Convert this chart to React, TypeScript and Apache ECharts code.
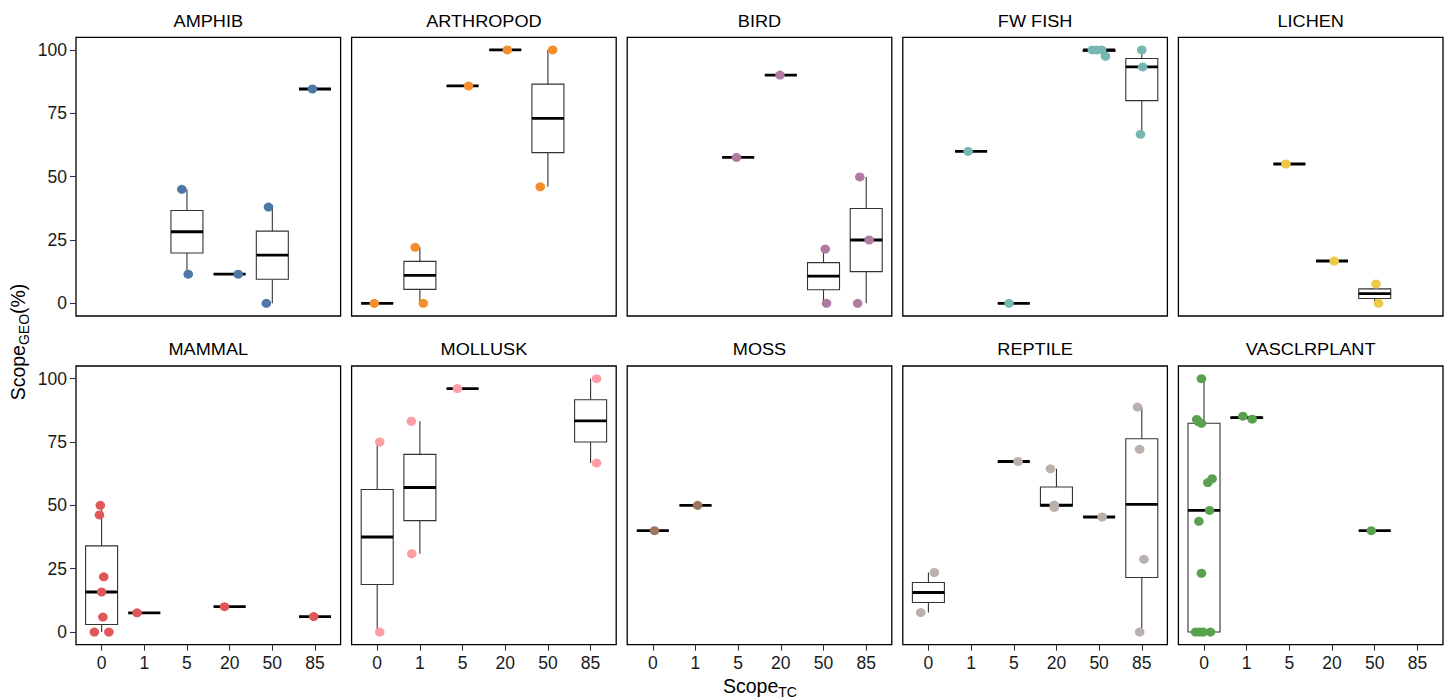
import React, { useEffect, useRef } from 'react';
import * as echarts from 'echarts';

const TAXA = ['AMPHIB', 'ARTHROPOD', 'BIRD', 'FW FISH', 'LICHEN', 'MAMMAL', 'MOLLUSK', 'MOSS', 'REPTILE', 'VASCLRPLANT'];
const SCOPE_TC = ['0', '1', '5', '20', '50', '85'];
const Y_TICKS = [0, 25, 50, 75, 100];
const COLORS = ['#4E79A7', '#F28E2B', '#B07AA1', '#76B7B2', '#EDC948', '#E15759', '#FF9DA7', '#9C755F', '#BAB0AC', '#59A14F'];

// points: [Scope_TC category index, Scope_GEO (%)]; jitter: horizontal offset
const amphib = [[2, 45], [2, 11.5], [3, 11.5], [4, 38], [4, 0], [5, 84.6]];
const jitterAmphib = [-0.12, 0.03, 0.2, -0.09, -0.14, -0.06];

const arthropod = [[0, 0], [1, 22.1], [1, 0], [2, 85.8], [3, 100], [4, 100], [4, 46]];
const jitterArthropod = [-0.07, -0.11, 0.08, 0.14, 0.05, 0.11, -0.18];

const bird = [[2, 57.6], [3, 90.1], [4, 21.4], [4, 0], [5, 49.9], [5, 25], [5, 0]];
const jitterBird = [-0.04, -0.02, 0.04, 0.07, -0.15, 0.07, -0.2];

const fwFish = [[1, 60], [2, 0], [4, 100], [4, 100], [4, 100], [4, 97.5], [5, 100], [5, 93.3], [5, 66.7]];
const jitterFwFish = [-0.07, -0.11, -0.16, -0.06, 0.06, 0.15, 0, 0.02, -0.03];

const lichen = [[2, 55], [3, 16.7], [4, 7.6], [4, 0]];
const jitterLichen = [-0.08, 0.05, 0.03, 0.09];

const mammal = [[0, 50], [0, 46.2], [0, 21.8], [0, 15.8], [0, 5.9], [0, 0], [0, 0], [1, 7.6], [3, 10], [5, 6.1]];
const jitterMammal = [-0.03, -0.05, 0.05, 0, 0.03, -0.17, 0.17, -0.17, -0.12, -0.03];

const mollusk = [[0, 75], [0, 0], [1, 83.2], [1, 30.9], [2, 96.1], [5, 100], [5, 66.7]];
const jitterMollusk = [0.06, 0.06, -0.2, -0.19, -0.12, 0.14, 0.14];

const moss = [[0, 40], [1, 50]];
const jitterMoss = [0.04, 0.05];

const reptile = [[0, 23.5], [0, 7.7], [2, 67.3], [3, 64.4], [3, 50.1], [3, 49.2], [4, 45.4], [5, 88.8], [5, 72.1], [5, 28.7], [5, 0]];
const jitterReptile = [0.14, -0.18, 0.1, -0.14, -0.05, -0.05, 0.07, -0.1, -0.05, 0.05, -0.05];

const vasclrplant = [[0, 100], [0, 83.9], [0, 83], [0, 82.4], [0, 60.5], [0, 59], [0, 48], [0, 43.7], [0, 23.2], [0, 0], [0, 0], [0, 0], [0, 0], [1, 85.2], [1, 84], [4, 40]];
const jitterVasclrplant = [-0.06, -0.17, -0.13, -0.06, 0.19, 0.09, 0.13, -0.12, -0.06, -0.2, -0.1, -0.02, 0.15, -0.09, 0.13, -0.08];

const POINTS = [amphib, arthropod, bird, fwFish, lichen, mammal, mollusk, moss, reptile, vasclrplant];
const JITTER = [jitterAmphib, jitterArthropod, jitterBird, jitterFwFish, jitterLichen, jitterMammal, jitterMollusk, jitterMoss, jitterReptile, jitterVasclrplant];

const FONT = '"Liberation Sans", Arial, Helvetica, sans-serif';
const FS = 17.5;
const STRIP_FS = 16.5;
const TITLE_FS = 19.5;
const SUB_FS = 14;

function quantile(sorted: number[], p: number) {
  const h = (sorted.length - 1) * p;
  const lo = Math.floor(h);
  const hi = Math.ceil(h);
  return sorted[lo] + (sorted[hi] - sorted[lo]) * (h - lo);
}

function boxStats(points: number[][]) {
  const out: number[][] = [];
  for (let c = 0; c < SCOPE_TC.length; c++) {
    const vals = points.filter((p) => p[0] === c).map((p) => p[1]).sort((a, b) => a - b);
    if (!vals.length) continue;
    const q1 = quantile(vals, 0.25);
    const med = quantile(vals, 0.5);
    const q3 = quantile(vals, 0.75);
    const iqr = q3 - q1;
    const inside = vals.filter((v) => v >= q1 - 1.5 * iqr && v <= q3 + 1.5 * iqr);
    out.push([c, q1, med, q3, Math.min(...inside), Math.max(...inside)]);
  }
  return out;
}

let measureCtx: CanvasRenderingContext2D | null = null;
function textWidth(text: string, size: number) {
  if (!measureCtx) measureCtx = document.createElement('canvas').getContext('2d');
  if (!measureCtx) return text.length * size * 0.55;
  measureCtx.font = `${size}px ${FONT}`;
  return measureCtx.measureText(text).width;
}

// builds "main + subscript + tail" as separate text pieces along a local x axis centred on 0
function subscriptTitle(main: string, sub: string, tail: string) {
  const w1 = textWidth(main, TITLE_FS);
  const w2 = textWidth(sub, SUB_FS);
  const w3 = tail ? textWidth(tail, TITLE_FS) : 0;
  const start = -(w1 + w2 + w3) / 2;
  const base = { fontFamily: FONT, fill: '#000', align: 'left', verticalAlign: 'middle' };
  const children: any[] = [
    { type: 'text', x: start, y: 0, style: { ...base, text: main, fontSize: TITLE_FS } },
    { type: 'text', x: start + w1, y: 6, style: { ...base, text: sub, fontSize: SUB_FS } },
  ];
  if (tail) children.push({ type: 'text', x: start + w1 + w2, y: 0, style: { ...base, text: tail, fontSize: TITLE_FS } });
  return children;
}

const PANEL_LEFT = 76;
const PANEL_STEP = 275.6;
const PANEL_W = 264.6;
const ROW_TOP = [37.3, 366];
const PANEL_H = 278.7;

function buildOption() {
  const grids: any[] = [];
  const xAxes: any[] = [];
  const yAxes: any[] = [];
  const series: any[] = [];
  const graphics: any[] = [];

  TAXA.forEach((name, i) => {
    const row = Math.floor(i / 5);
    const col = i % 5;
    const left = PANEL_LEFT + col * PANEL_STEP;
    const top = ROW_TOP[row];
    grids.push({
      left,
      top,
      width: PANEL_W,
      height: PANEL_H,
      show: true,
      borderColor: '#000',
      borderWidth: 1.3,
      backgroundColor: 'rgba(0,0,0,0)',
      containLabel: false,
    });
    const bottomRow = row === 1;
    const leftCol = col === 0;
    xAxes.push({
      type: 'value',
      gridIndex: i,
      position: 'bottom',
      min: -0.6,
      max: 5.6,
      axisLine: { show: false, onZero: false },
      splitLine: { show: false },
      axisTick: {
        show: bottomRow,
        customValues: [0, 1, 2, 3, 4, 5],
        length: 6,
        lineStyle: { color: '#333', width: 1.1 },
      },
      axisLabel: {
        show: bottomRow,
        customValues: [0, 1, 2, 3, 4, 5],
        formatter: (v: number) => SCOPE_TC[Math.round(v)] ?? '',
        fontSize: FS,
        fontFamily: FONT,
        color: '#1a1a1a',
        margin: 9,
      },
    });
    yAxes.push({
      type: 'value',
      gridIndex: i,
      position: 'left',
      min: -5,
      max: 105,
      axisLine: { show: false, onZero: false },
      splitLine: { show: false },
      axisTick: {
        show: leftCol,
        customValues: Y_TICKS,
        length: 6,
        lineStyle: { color: '#333', width: 1.1 },
      },
      axisLabel: {
        show: leftCol,
        customValues: Y_TICKS,
        fontSize: FS,
        fontFamily: FONT,
        color: '#1a1a1a',
        margin: 9,
      },
    });

    series.push({
      type: 'custom',
      xAxisIndex: i,
      yAxisIndex: i,
      z: 2,
      silent: true,
      encode: { x: 0, y: [1, 2, 3, 4, 5] },
      data: boxStats(POINTS[i]),
      renderItem: (params: any, api: any) => {
        const x = api.value(0);
        const q1 = api.value(1);
        const med = api.value(2);
        const q3 = api.value(3);
        const lo = api.value(4);
        const hi = api.value(5);
        const pQ3L = api.coord([x - 0.375, q3]);
        const pQ1R = api.coord([x + 0.375, q1]);
        const pMed = api.coord([x, med]);
        const pLo = api.coord([x, lo]);
        const pHi = api.coord([x, hi]);
        const cx = pMed[0];
        const stroke = '#333';
        return {
          type: 'group',
          children: [
            { type: 'line', shape: { x1: cx, y1: pHi[1], x2: cx, y2: pQ3L[1] }, style: { stroke, lineWidth: 1.1 } },
            { type: 'line', shape: { x1: cx, y1: pQ1R[1], x2: cx, y2: pLo[1] }, style: { stroke, lineWidth: 1.1 } },
            {
              type: 'rect',
              shape: { x: pQ3L[0], y: pQ3L[1], width: pQ1R[0] - pQ3L[0], height: pQ1R[1] - pQ3L[1] },
              style: { fill: '#fff', stroke, lineWidth: 1.1 },
            },
            { type: 'line', shape: { x1: pQ3L[0], y1: pMed[1], x2: pQ1R[0], y2: pMed[1] }, style: { stroke: '#000', lineWidth: 2.8 } },
          ],
        };
      },
    });

    series.push({
      type: 'scatter',
      xAxisIndex: i,
      yAxisIndex: i,
      z: 3,
      silent: true,
      symbol: 'circle',
      symbolSize: [9.6, 9],
      itemStyle: { color: COLORS[i], opacity: 1 },
      data: POINTS[i].map((p, k) => [p[0] + JITTER[i][k], p[1]]),
    });

    graphics.push({
      type: 'text',
      x: left + PANEL_W / 2,
      y: top - 16.3,
      scaleX: 1.1,
      style: {
        text: name,
        fontSize: STRIP_FS,
        fontFamily: FONT,
        fill: '#000',
        align: 'center',
        verticalAlign: 'middle',
      },
    });
  });

  graphics.push({
    type: 'group',
    x: 760,
    y: 685.5,
    children: subscriptTitle('Scope', 'TC', ''),
  });
  graphics.push({
    type: 'group',
    x: 18.3,
    y: 342,
    rotation: Math.PI / 2,
    children: subscriptTitle('Scope', 'GEO', '(%)'),
  });

  return {
    animation: false,
    backgroundColor: '#fff',
    grid: grids,
    xAxis: xAxes,
    yAxis: yAxes,
    series,
    graphic: graphics,
  };
}

export default function App() {
  const ref = useRef<HTMLDivElement>(null);
  useEffect(() => {
    if (!ref.current) return;
    const chart = echarts.init(ref.current, null, { renderer: 'svg' });
    chart.setOption(buildOption() as any);
    return () => chart.dispose();
  }, []);
  return (
    <div
      ref={ref}
      style={{ position: 'fixed', left: 0, top: 0, width: 1448, height: 700, background: '#fff' }}
    />
  );
}
